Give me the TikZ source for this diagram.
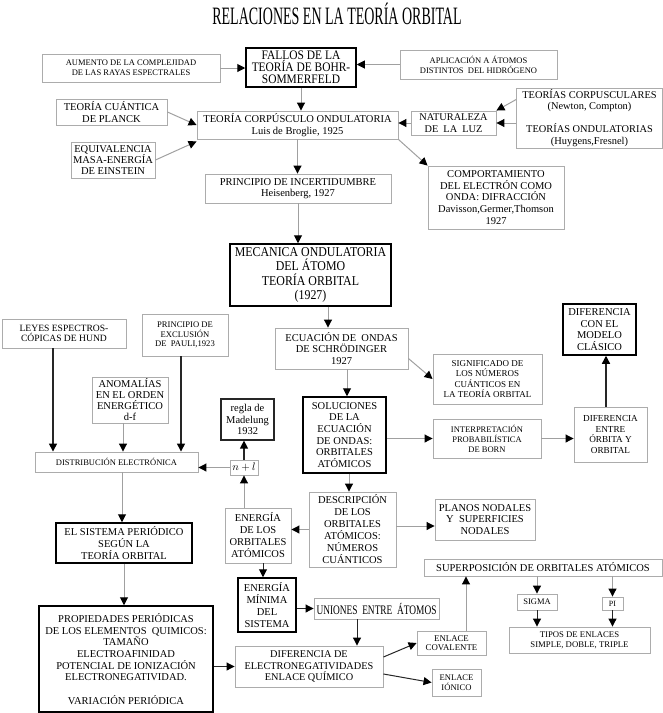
\documentclass[tikz,border=0pt]{standalone}
\usepackage{fontspec}
\setmainfont{Liberation Serif}
\newfontfamily\titlefont[FakeStretch=0.56]{Liberation Serif}
\newfontfamily\condfont[FakeStretch=0.72]{Liberation Serif}
\newfontfamily\semicond[FakeStretch=0.88]{Liberation Serif}
\usetikzlibrary{arrows.meta}
\definecolor{bc}{RGB}{172,172,172}
\definecolor{lc}{RGB}{160,160,160}
\newcommand{\fsz}[2]{\fontsize{#1}{#2}\selectfont}
\tikzset{
  box/.style={draw=bc, line width=0.9pt, inner sep=1pt, align=center, text=black, font=\fsz{10.5}{11.7}},
  tbox/.style={box, draw=black, line width=1.5pt},
  arr/.style={draw=lc, line width=1pt, -{Triangle[length=8pt,width=8pt,color=black]}},
  darr/.style={arr, draw=black!85},
}
\begin{document}
\begin{tikzpicture}[x=1pt,y=-1pt]
\useasboundingbox (0,0) rectangle (663,713);
\node[font={\titlefont\fsz{25}{25}}] (title) at (337,14) {RELACIONES EN LA TEORÍA ORBITAL};
% top
\node[box, font=\fsz{8.5}{10}, minimum width=178pt, minimum height=28pt] (aum) at (131,68) {AUMENTO DE LA COMPLEJIDAD\\DE LAS RAYAS ESPECTRALES};
\node[tbox, font={\semicond\fsz{13}{11.8}}, minimum width=110pt, minimum height=39pt] (fallos) at (301,67.5) {FALLOS DE LA\\TEORÍA DE BOHR-\\SOMMERFELD};
\node[box, font=\fsz{8.5}{10}, minimum width=157pt, minimum height=29pt] (aplic) at (478.5,64.5) {APLICACIÓN A ÁTOMOS\\DISTINTOS\ \ DEL HIDRÓGENO};
\node[box, minimum width=111pt, minimum height=26pt] (planck) at (111.5,112) {TEORÍA CUÁNTICA\\DE PLANCK};
\node[box, font=\fsz{10.5}{11.3}, minimum width=84pt, minimum height=36pt] (equiv) at (113,160) {EQUIVALENCIA\\MASA-ENERGÍA\\DE EINSTEIN};
\node[box, font=\fsz{10.5}{12.7}, minimum width=201pt, minimum height=28pt] (corp) at (297.5,125) {TEORÍA CORPÚSCULO ONDULATORIA\\Luis de Broglie, 1925};
\node[box, font=\fsz{10.3}{12.3}, minimum width=85pt, minimum height=24pt] (natur) at (453.5,123) {NATURALEZA\\DE\ \ LA\ \ LUZ};
\node[box, font=\fsz{10.4}{11.5}, minimum width=146pt, minimum height=60pt] (teorias) at (589.5,118) {TEORÍAS CORPUSCULARES\\(Newton, Compton)\\[11.5pt]TEORÍAS ONDULATORIAS\\(Huygens,Fresnel)};
\node[box, font=\fsz{10.5}{11.7}, minimum width=136pt, minimum height=63pt] (comp) at (496,197.5) {COMPORTAMIENTO\\DEL ELECTRÓN COMO\\ONDA: DIFRACCIÓN\\Davisson,Germer,Thomson\\1927};
\node[box, font=\fsz{10.5}{11}, minimum width=186pt, minimum height=29pt] (incert) at (298,188.5) {PRINCIPIO DE INCERTIDUMBRE\\Heisenberg, 1927};
\node[tbox, font={\semicond\fsz{13.5}{14.2}}, minimum width=161pt, minimum height=62pt] (mec) at (310.5,275) {MECANICA ONDULATORIA\\DEL ÁTOMO\\TEORÍA ORBITAL\\(1927)};
\node[box, minimum width=133pt, minimum height=41pt] (ecua) at (341.5,348.5) {ECUACIÓN DE\ \ ONDAS\\DE SCHRÖDINGER\\1927};
\node[box, font=\fsz{9}{10.5}, minimum width=109pt, minimum height=50pt] (signif) at (487.5,379) {SIGNIFICADO DE\\LOS NÚMEROS\\CUÁNTICOS EN\\LA TEORÍA ORBITAL};
\node[tbox, minimum width=83pt, minimum height=76pt] (soluc) at (344.5,435) {SOLUCIONES\\DE LA\\ECUACIÓN\\DE ONDAS:\\ORBITALES\\ATÓMICOS};
\node[box, font=\fsz{8.5}{10}, minimum width=108pt, minimum height=39pt] (interp) at (487,438.5) {INTERPRETACIÓN\\PROBABILÍSTICA\\DE BORN};
\node[box, font=\fsz{9.2}{10.4}, minimum width=73pt, minimum height=55pt] (difentre) at (610.5,434.5) {DIFERENCIA\\ENTRE\\ÓRBITA Y\\ORBITAL};
\node[tbox, minimum width=73pt, minimum height=51pt] (difcon) at (599.5,329.5) {DIFERENCIA\\CON EL\\MODELO\\CLÁSICO};
% left
\node[box, font=\fsz{9.6}{10.7}, minimum width=124pt, minimum height=29pt] (leyes) at (64,333.5) {LEYES ESPECTROS-\\CÓPICAS DE HUND};
\node[box, font=\fsz{8.6}{9.5}, minimum width=86pt, minimum height=42pt] (pauli) at (185,335) {PRINCIPIO DE\\EXCLUSIÓN\\DE\ \ PAULI,1923};
\node[box, font=\fsz{10.5}{11}, minimum width=76pt, minimum height=46pt] (anom) at (130,400) {ANOMALÍAS\\EN EL ORDEN\\ENERGÉTICO\\d-f};
\node[box, font=\fsz{8.5}{10}, minimum width=163pt, minimum height=20pt] (distr) at (116.5,462) {DISTRIBUCIÓN ELECTRÓNICA};
\node[box, font=\fsz{10.5}{11}, minimum width=28pt, minimum height=15pt] (nl) at (244,467.5) {$n+l$};
\node[tbox, line width=1.2pt, draw=black!85, font=\fsz{10.5}{11.5}, minimum width=53pt, minimum height=41pt] (madel) at (247.5,419.5) {regla de\\Madelung\\1932};
\node[box, font=\fsz{10.5}{12}, minimum width=66pt, minimum height=55pt] (enorb) at (258,535.5) {ENERGÍA\\DE LOS\\ORBITALES\\ATÓMICOS};
\node[box, font=\fsz{10.5}{12}, minimum width=87pt, minimum height=75pt] (descr) at (352.5,529.5) {DESCRIPCIÓN\\DE LOS\\ORBITALES\\ATÓMICOS:\\NÚMEROS\\CUÁNTICOS};
\node[box, minimum width=100pt, minimum height=41pt] (planos) at (485,519.5) {PLANOS NODALES\\Y\ \ SUPERFICIES\\NODALES};
\node[box, minimum width=238pt, minimum height=17pt] (superp) at (543,567.5) {SUPERPOSICIÓN DE ORBITALES ATÓMICOS};
\node[box, font=\fsz{8.5}{10}, minimum width=40pt, minimum height=16pt] (sigma) at (537,602) {SIGMA};
\node[box, font=\fsz{8}{10}, minimum width=21pt, minimum height=13pt] (pi) at (612.5,603.5) {PI};
\node[box, font=\fsz{8.7}{10}, minimum width=141pt, minimum height=26pt] (tipos) at (579.5,640) {TIPOS DE ENLACES\\SIMPLE, DOBLE, TRIPLE};
\node[box, font=\fsz{8.8}{9.7}, minimum width=69pt, minimum height=24pt] (coval) at (451.5,643) {ENLACE\\COVALENTE};
\node[box, font=\fsz{8.6}{9.7}, minimum width=49pt, minimum height=27pt] (ionic) at (456.5,682.5) {ENLACE\\IÓNICO};
\node[box, font=\fsz{10.3}{11.7}, minimum width=148pt, minimum height=41pt] (difel) at (309,666.5) {DIFERENCIA DE\\ELECTRONEGATIVIDADES\\ENLACE QUÍMICO};
\node[box, font={\condfont\fsz{13}{13}}, minimum width=125pt, minimum height=21pt] (union) at (376.5,608.5) {UNIONES\ \ ENTRE\ \ ÁTOMOS};
\node[tbox, font=\fsz{10.5}{12}, minimum width=58pt, minimum height=54pt] (enmin) at (267,605) {ENERGÍA\\MÍNIMA\\DEL\\SISTEMA};
\node[tbox, minimum width=136pt, minimum height=40pt] (sist) at (124,543) {EL SISTEMA PERIÓDICO\\SEGÚN LA\\TEORÍA ORBITAL};
\node[tbox, minimum width=174pt, minimum height=106pt] (prop) at (126,659) {PROPIEDADES PERIÓDICAS\\DE LOS ELEMENTOS\ \ QUIMICOS:\\TAMAÑO\\ELECTROAFINIDAD\\POTENCIAL DE IONIZACIÓN\\ELECTRONEGATIVIDAD.\\[11.7pt]VARIACIÓN PERIÓDICA};
% helper coordinates
\coordinate (mecS) at ([xshift=17.5pt]mec.south);
\coordinate (solN) at ([xshift=2.5pt]soluc.north);
\coordinate (solS) at ([xshift=4.5pt]soluc.south);
\coordinate (dcN) at ([xshift=-4.5pt]difentre.north);
\coordinate (leyS) at ([xshift=-11pt]leyes.south);
\coordinate (pauS) at ([xshift=-4pt]pauli.south);
\coordinate (anoS) at ([xshift=-7pt]anom.south);
\coordinate (covN) at ([xshift=14.5pt]coval.north);
\coordinate (uniS) at ([xshift=-19.5pt]union.south);
\coordinate (eorS) at ([xshift=5pt]enorb.south);
\coordinate (sisN) at ([xshift=-2pt]sist.north);
\coordinate (teoW) at ([yshift=-12pt]teorias.north west);
\coordinate (ecuE) at ([yshift=-10pt]ecua.east);
\coordinate (desE) at ([yshift=3.5pt]descr.east);
\coordinate (dfA) at ([yshift=9.5pt]difel.east);
\coordinate (dfB) at ([yshift=-7.5pt]difel.east);
\coordinate (corpA) at ([yshift=-2pt]corp.south west);
% connectors
\draw[arr] (aum.east) -- (aum.east -| fallos.west);
\draw[arr] (aplic.west) -- (aplic.west -| fallos.east);
\draw[arr] (fallos.south) -- (fallos.south |- corp.north);
\draw[arr] (planck.east) -- (corp.west);
\draw[arr] (equiv.east) -- (corpA);
\draw[arr] (natur.west) -- (natur.west -| corp.east);
\draw[arr] (natur.east -| teorias.west) -- (natur.east);
\draw[arr] (teoW) -- (natur.north east);
\draw[arr] (corp.south east) -- (comp.north west);
\draw[arr] (corp.south) -- (corp.south |- incert.north);
\draw[arr] (incert.south) -- (incert.south |- mec.north);
\draw[arr] (mecS) -- (mecS |- ecua.north);
\draw[arr] (ecuE) -- (signif.west);
\draw[arr] (solN |- ecua.south) -- (solN);
\draw[arr] (interp.west -| soluc.east) -- (interp.west);
\draw[arr] (interp.east) -- (interp.east -| difentre.west);
\draw[darr, line width=1.3pt] (dcN) -- (dcN |- difcon.south);
\draw[darr, line width=1.3pt] (leyS) -- (leyS |- distr.north);
\draw[darr, line width=1.3pt] (pauS) -- (pauS |- distr.north);
\draw[arr] (anoS) -- (anoS |- distr.north);
\draw[arr] (nl.west) -- (nl.west -| distr.east);
\draw[darr, line width=1.3pt] (nl.north) -- (nl.north |- madel.south);
\draw[arr] (nl.south |- enorb.north) -- (nl.south);
\draw[arr] (solS) -- (solS |- descr.north);
\draw[arr] (descr.west) -- (descr.west -| enorb.east);
\draw[arr] (desE) -- (desE -| planos.west);
\draw[arr] (sigma.north |- superp.south) -- (sigma.north);
\draw[arr] (pi.north |- superp.south) -- (pi.north);
\draw[darr] (sigma.south) -- (sigma.south |- tipos.north);
\draw[darr] (pi.south) -- (pi.south |- tipos.north);
\draw[arr] (covN) -- (covN |- superp.south);
\draw[darr] (dfA) -- (coval.west);
\draw[darr] (dfB) -- (ionic.west);
\draw[darr] (uniS) -- (uniS |- difel.north);
\draw[darr] (union.west -| enmin.east) -- (union.west);
\draw[darr] (eorS) -- (eorS |- enmin.north);
\draw[arr] (sisN |- distr.south) -- (sisN);
\draw[arr] (sist.south) -- (sist.south |- prop.north);
\draw[darr] (difel.west -| prop.east) -- (difel.west);
\end{tikzpicture}
\end{document}
